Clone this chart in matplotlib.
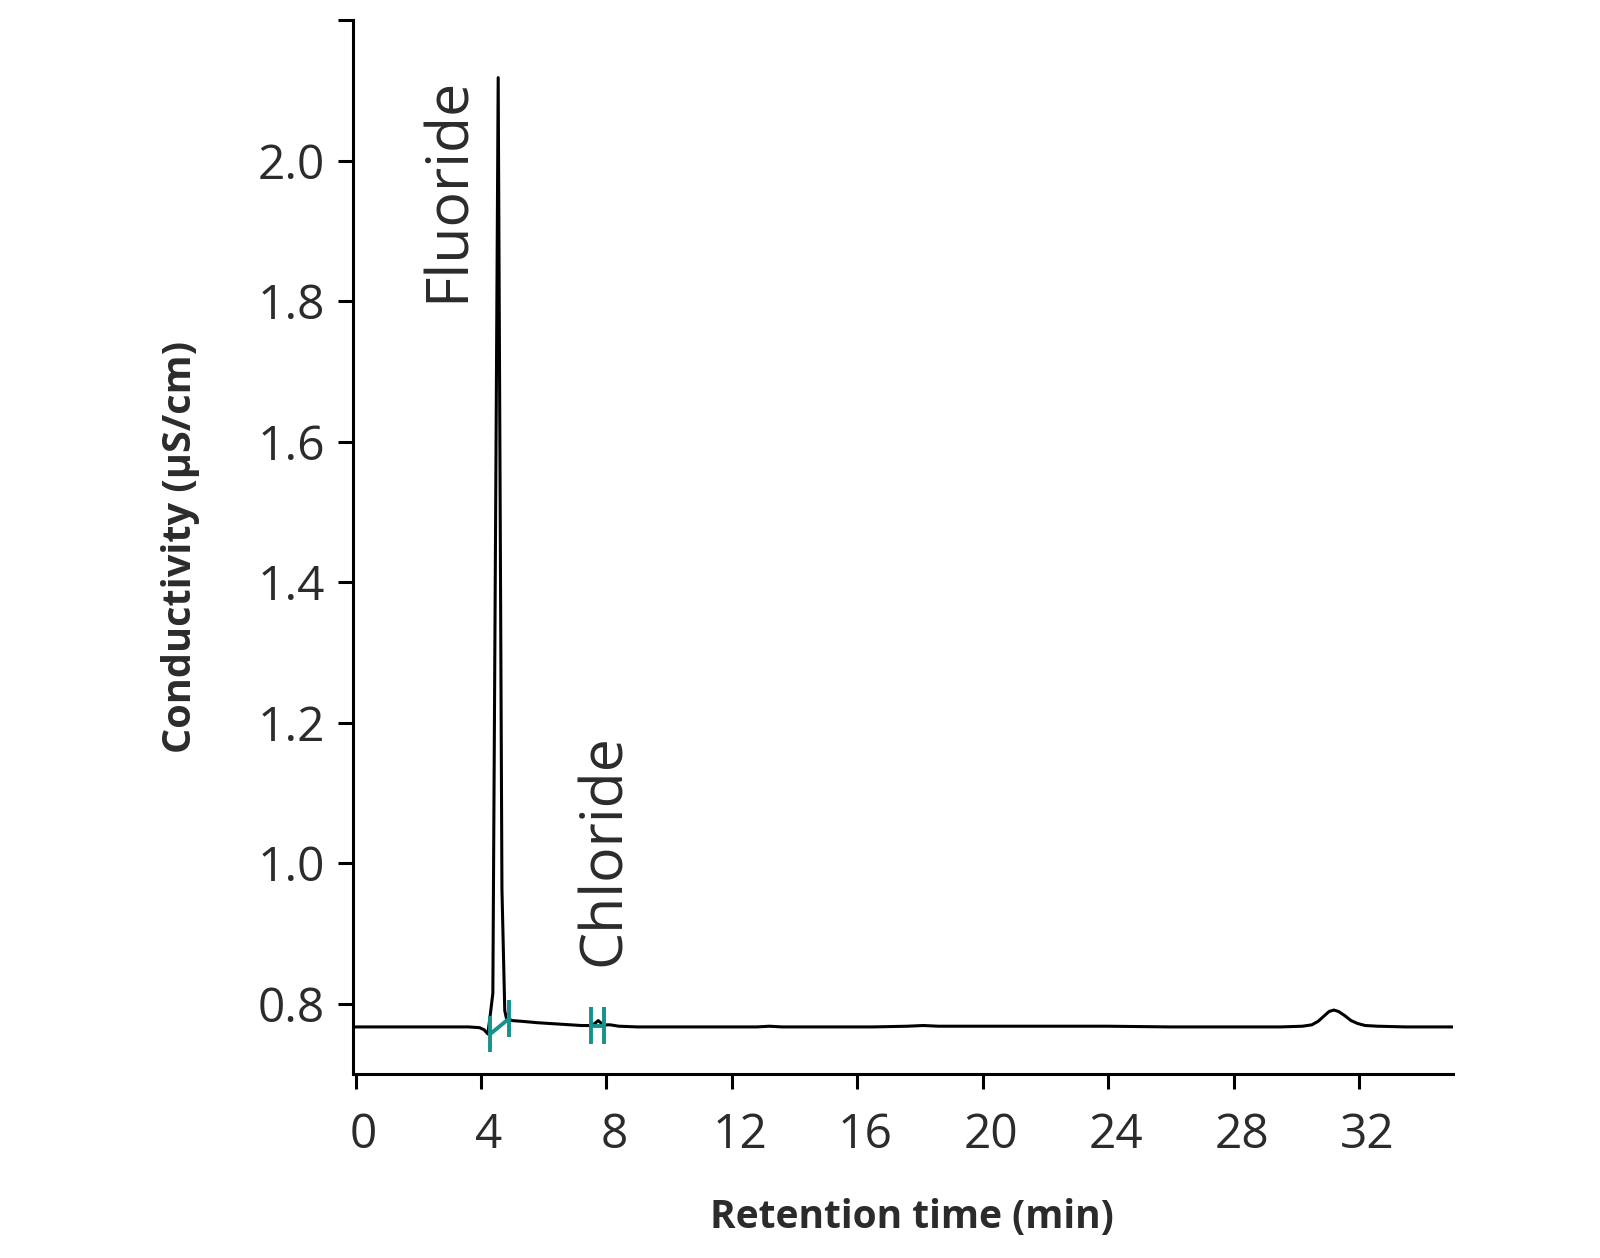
import matplotlib
matplotlib.use("Agg")
import matplotlib.pyplot as plt
import matplotlib.transforms as mtransforms
import numpy as np

plt.rcParams['font.family'] = ['Open Sans', 'DejaVu Sans']

# chromatogram trace (min, uS/cm)
time = [0.0, 1.0, 2.0, 3.0, 3.6, 3.95, 4.1, 4.22, 4.30, 4.38, 4.55, 4.67, 4.76, 4.82,
        5.0, 5.3, 5.8, 6.5, 7.2, 7.55, 7.66, 7.74, 7.82, 7.92, 8.02, 8.12, 8.4,
        9.0, 10.0, 11.5, 12.8, 13.2, 13.6, 15.0, 16.5, 17.6, 18.1, 18.6, 20.0,
        22.0, 24.0, 26.0, 28.0, 29.5, 30.2, 30.5, 30.7, 30.9, 31.05, 31.2, 31.35,
        31.55, 31.75, 31.95, 32.2, 32.6, 33.5, 35.0]
cond = [0.767, 0.767, 0.767, 0.767, 0.767, 0.766, 0.763, 0.757, 0.785, 0.815, 2.118, 0.963,
        0.790, 0.778, 0.776, 0.775, 0.773, 0.771, 0.769, 0.769, 0.773, 0.776, 0.773, 0.769,
        0.770, 0.770, 0.768, 0.767, 0.767, 0.767, 0.767, 0.768, 0.767, 0.767, 0.767,
        0.768, 0.769, 0.768, 0.768, 0.768, 0.768, 0.767, 0.767, 0.767, 0.768, 0.770,
        0.775, 0.783, 0.789, 0.791, 0.789, 0.783, 0.776, 0.772, 0.769, 0.768, 0.767,
        0.767]

# integration markers (start/end of each peak, baseline value there)
peak_names = ['Fluoride', 'Chloride']
peak_start = [4.30, 7.52]
peak_end = [4.90, 7.93]
base_start = [0.757, 0.769]
base_end = [0.779, 0.769]
label_x = [2.95, 7.95]
label_y = [1.798, 0.853]

teal = '#17918c'
ink = '#2b2b2b'

fig = plt.figure(figsize=(16, 12.58), dpi=100)
ax = fig.add_axes([353 / 1600, 1 - 1074 / 1258, 1100 / 1600, 1054 / 1258])

ax.plot(time, cond, color='black', lw=2.2, solid_joinstyle='round', zorder=3)

for s, e, bs, be in zip(peak_start, peak_end, base_start, base_end):
    ax.plot([s, e], [bs, be], color=teal, lw=2.8, zorder=4)
    ax.vlines([s, e], [bs - 0.026, be - 0.026], [bs + 0.026, be + 0.026],
              color=teal, lw=2.8, zorder=4)

for name, lx, ly in zip(peak_names, label_x, label_y):
    ax.text(lx, ly, name, rotation=90, ha='center', va='bottom',
            fontsize=42.5, color=ink)

ax.set_xlim(-0.08, 35.0)
ax.set_ylim(0.70, 2.20)
ax.set_xticks(np.arange(0, 33, 4))
ax.set_yticks([0.8, 1.0, 1.2, 1.4, 1.6, 1.8, 2.0, 2.2])
ax.set_yticklabels(['0.8', '1.0', '1.2', '1.4', '1.6', '1.8', '2.0', ''])

for side in ['top', 'right']:
    ax.spines[side].set_visible(False)
for side in ['left', 'bottom']:
    ax.spines[side].set_linewidth(2.2)
    ax.spines[side].set_color('black')

ax.tick_params(axis='both', length=11, width=2.2, color='black',
               labelsize=34.5, labelcolor=ink)
ax.tick_params(axis='y', pad=9)
ax.tick_params(axis='x', pad=16)

# x tick labels sit a little right of their ticks in the original
shift = mtransforms.ScaledTranslation(0.08, 0, fig.dpi_scale_trans)
for lab in ax.get_xticklabels():
    lab.set_transform(lab.get_transform() + shift)

ax.set_xlabel('Retention time (min)', fontsize=28, fontweight='bold', color=ink,
              va='center')
ax.xaxis.set_label_coords(0.508, -0.136)
ax.set_ylabel('Conductivity (µS/cm)', fontsize=28.5, fontweight='bold', color=ink,
              va='center')
ax.yaxis.set_label_coords(-0.157, 0.5)

fig.savefig('out.png', dpi=100)
